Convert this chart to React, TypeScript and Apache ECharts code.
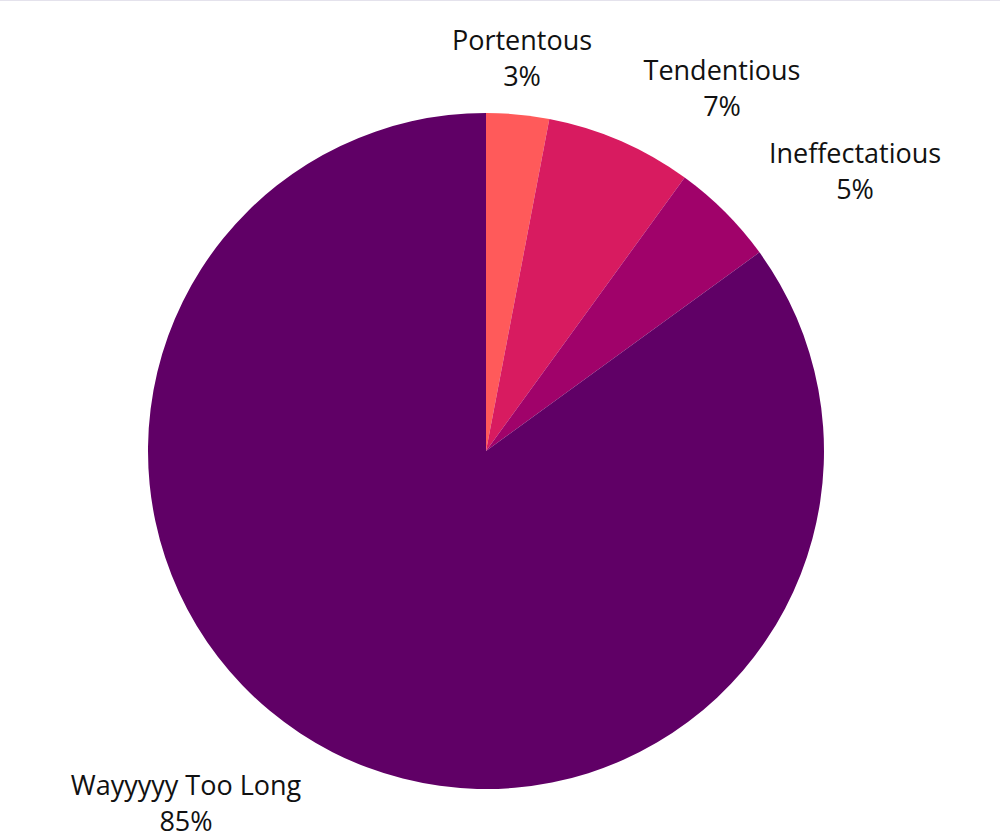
import React, { useEffect, useRef } from "react";
import * as echarts from "echarts";

const categories = ["Portentous", "Tendentious", "Ineffectatious", "Wayyyyy Too Long"];
const values = [3, 7, 5, 85];
const colors = ["#FF5A5A", "#D81B60", "#A0026A", "#600066"];
const labelPositions: [number, number][] = [
  [522, 57],
  [722, 87],
  [855, 170],
  [186, 802],
];

export default function App() {
  const ref = useRef<HTMLDivElement>(null);
  useEffect(() => {
    document.body.style.margin = "0";
    const chart = echarts.init(ref.current!, undefined, { renderer: "svg" });
    chart.setOption({
      animation: false,
      backgroundColor: "#ffffff",
      graphic: [
        {
          type: "rect",
          shape: { x: 0, y: 0, width: 1000, height: 1 },
          style: { fill: "#E4E2EC" },
          silent: true,
        },
      ],
      series: [
        {
          type: "pie",
          center: [486, 451],
          radius: [0, 338],
          startAngle: 90,
          clockwise: true,
          avoidLabelOverlap: false,
          itemStyle: { borderWidth: 0 },
          labelLine: { show: false },
          label: {
            show: true,
            position: "outside",
            formatter: "{b}\n{c}%",
            color: "#111111",
            fontSize: 27,
            lineHeight: 36,
            fontFamily: "Open Sans",
            align: "center",
          },
          labelLayout: (params: any) => {
            const p = labelPositions[params.dataIndex];
            return { x: p[0], y: p[1], align: "center", verticalAlign: "middle" };
          },
          data: categories.map((name, i) => ({
            name,
            value: values[i],
            itemStyle: { color: colors[i] },
          })),
        },
      ],
    });
    return () => chart.dispose();
  }, []);
  return <div ref={ref} style={{ width: 1000, height: 838 }} />;
}
